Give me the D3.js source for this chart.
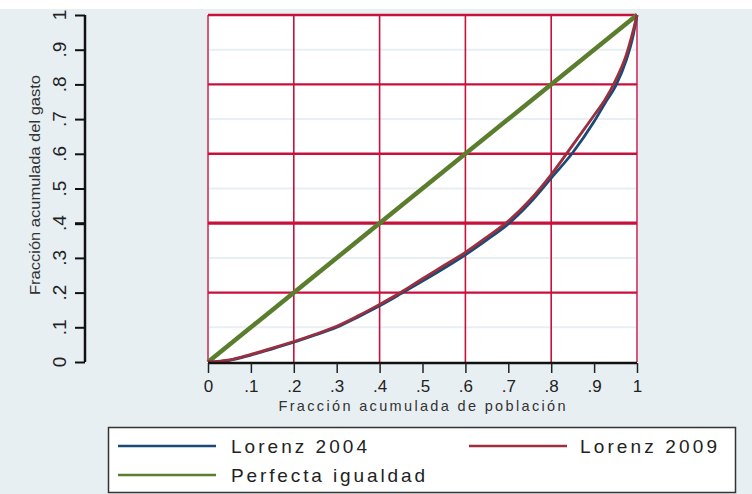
<!DOCTYPE html>
<html><head><meta charset="utf-8">
<script src="https://cdn.jsdelivr.net/npm/d3@7"></script>
<style>body{margin:0;background:#fff}svg{display:block;font-family:"Liberation Sans",Arial,sans-serif}</style>
</head><body><svg id="c" width="752" height="494"></svg>
<script>
const population = [0,.05,.1,.15,.2,.25,.3,.35,.4,.45,.5,.55,.6,.65,.7,.75,.8,.85,.9,.925,.95,.975,.99,1];
const lorenz2004 = [0,.005,.020,.038,.057,.078,.100,.130,.162,.197,.233,.270,.309,.352,.398,.458,.530,.603,.693,.745,.795,.870,.935,1];
const lorenz2009 = [0,.006,.022,.040,.059,.080,.103,.133,.166,.201,.240,.278,.316,.360,.406,.466,.540,.625,.711,.755,.812,.885,.950,1];
const equality = [0,1];
const tickValues = [0,.1,.2,.3,.4,.5,.6,.7,.8,.9,1];
const tickLabels = ["0",".1",".2",".3",".4",".5",".6",".7",".8",".9","1"];
const majorGrid = [.2,.4,.6,.8,1];
const minorGrid = [.1,.3,.5,.7,.9];
const seriesNames = ["Lorenz 2004","Lorenz 2009","Perfecta igualdad"];
const xTitle = "Fracción acumulada de población";
const yTitle = "Fracción acumulada del gasto";

const svg = d3.select("#c");
const W=752,H=494;
const x = d3.scaleLinear().domain([0,1]).range([208,637]);
const y = d3.scaleLinear().domain([0,1]).range([362,15]);
const RED="#c8103c", BLUE="#1a4a78", MAROON="#9b2f3e", GREEN="#5a7d2e", BG="#e8eff2";

svg.append("rect").attr("x",0).attr("y",9).attr("width",W).attr("height",H-9).attr("fill",BG);
svg.append("rect").attr("x",x(0)).attr("y",y(1)).attr("width",x(1)-x(0)).attr("height",y(0)-y(1)).attr("fill","#fff");

// minor grid
svg.selectAll(".mg").data(minorGrid).join("line")
  .attr("x1",x(0)).attr("x2",x(1)).attr("y1",d=>y(d)).attr("y2",d=>y(d))
  .attr("stroke",BG).attr("stroke-width",2);
// vertical grid
svg.selectAll(".vg").data([0,...majorGrid]).join("line")
  .attr("x1",d=>x(d)).attr("x2",d=>x(d)).attr("y1",y(1)).attr("y2",y(0))
  .attr("stroke",(d)=> (d===0||d===1)?"#d6577a":RED).attr("stroke-width",d=>(d===0||d===1)?2:1.6);
// horizontal grid
svg.selectAll(".hg").data(majorGrid).join("line")
  .attr("x1",x(0)).attr("x2",x(1)).attr("y1",d=>y(d)).attr("y2",d=>y(d))
  .attr("stroke",RED).attr("stroke-width",d=>d===.4?3.2:2.4);

// lines
const pts = arr => population.map((p,i)=>[p,arr[i]]);
const line = d3.line().x(d=>x(d[0])).y(d=>y(d[1])).curve(d3.curveMonotoneX);
svg.append("path").datum(equality.map(v=>[v,v])).attr("d",line).attr("fill","none").attr("stroke",GREEN).attr("stroke-width",4.5);
svg.append("path").datum(pts(lorenz2004)).attr("d",line).attr("fill","none").attr("stroke",BLUE).attr("stroke-width",2.8);
svg.append("path").datum(pts(lorenz2009)).attr("d",line).attr("fill","none").attr("stroke",MAROON).attr("stroke-width",2.8);

// x axis
const xa = svg.append("g").attr("transform",`translate(0,${y(0)+1})`)
  .call(d3.axisBottom(x).tickValues(tickValues).tickFormat((d,i)=>tickLabels[i]).tickSize(10).tickPadding(7));
xa.select(".domain").attr("stroke","#111").attr("stroke-width",2.5).attr("d",`M${x(0)},0H${x(1)}`);
xa.selectAll(".tick line").attr("stroke","#222").attr("stroke-width",1.5);
xa.selectAll("text").attr("font-size",17).attr("fill","#222").attr("font-family","Liberation Sans, Arial, sans-serif");

// y axis (detached)
const ya = svg.append("g").attr("transform","translate(85,0)")
  .call(d3.axisLeft(y).tickValues(tickValues).tickSize(10).tickFormat(""));
ya.select(".domain").attr("stroke","#111").attr("stroke-width",2.5).attr("d",`M0,${y(1)}V${y(0)}`);
ya.selectAll(".tick line").attr("stroke","#111").attr("stroke-width",d=>d===.4?3:2);
svg.selectAll(".ylab").data(tickValues).join("text")
  .attr("transform",d=>`translate(66,${y(d)}) rotate(-90)`)
  .attr("text-anchor","middle").attr("font-size",19).attr("fill","#222").text((d,i)=>tickLabels[i]);

// titles
svg.append("text").attr("x",422).attr("y",411).attr("text-anchor","middle").attr("font-size",14.5)
  .attr("fill","#333").attr("textLength",287).attr("lengthAdjust","spacing").text(xTitle);
svg.append("text").attr("transform","translate(40,185) rotate(-90)").attr("text-anchor","middle").attr("font-size",14.5)
  .attr("fill","#333").attr("textLength",220).attr("lengthAdjust","spacingAndGlyphs").text(yTitle);

// legend
svg.append("rect").attr("x",108.5).attr("y",427.5).attr("width",627).attr("height",65).attr("fill","#fff")
  .attr("stroke","#333").attr("stroke-width",1.5);
const leg = [
  {n:seriesNames[0],c:BLUE,lx:118,tx:231,y:446,w:136},
  {n:seriesNames[1],c:MAROON,lx:469,tx:580,y:446,w:137},
  {n:seriesNames[2],c:GREEN,lx:118,tx:231,y:475,w:194}
];
leg.forEach(l=>{
  svg.append("line").attr("x1",l.lx).attr("x2",l.lx+98).attr("y1",l.y).attr("y2",l.y).attr("stroke",l.c).attr("stroke-width",2.5);
  svg.append("text").attr("x",l.tx).attr("y",l.y+7).attr("font-size",19).attr("fill","#222")
    .attr("textLength",l.w).attr("lengthAdjust","spacing").text(l.n);
});
</script></body></html>
